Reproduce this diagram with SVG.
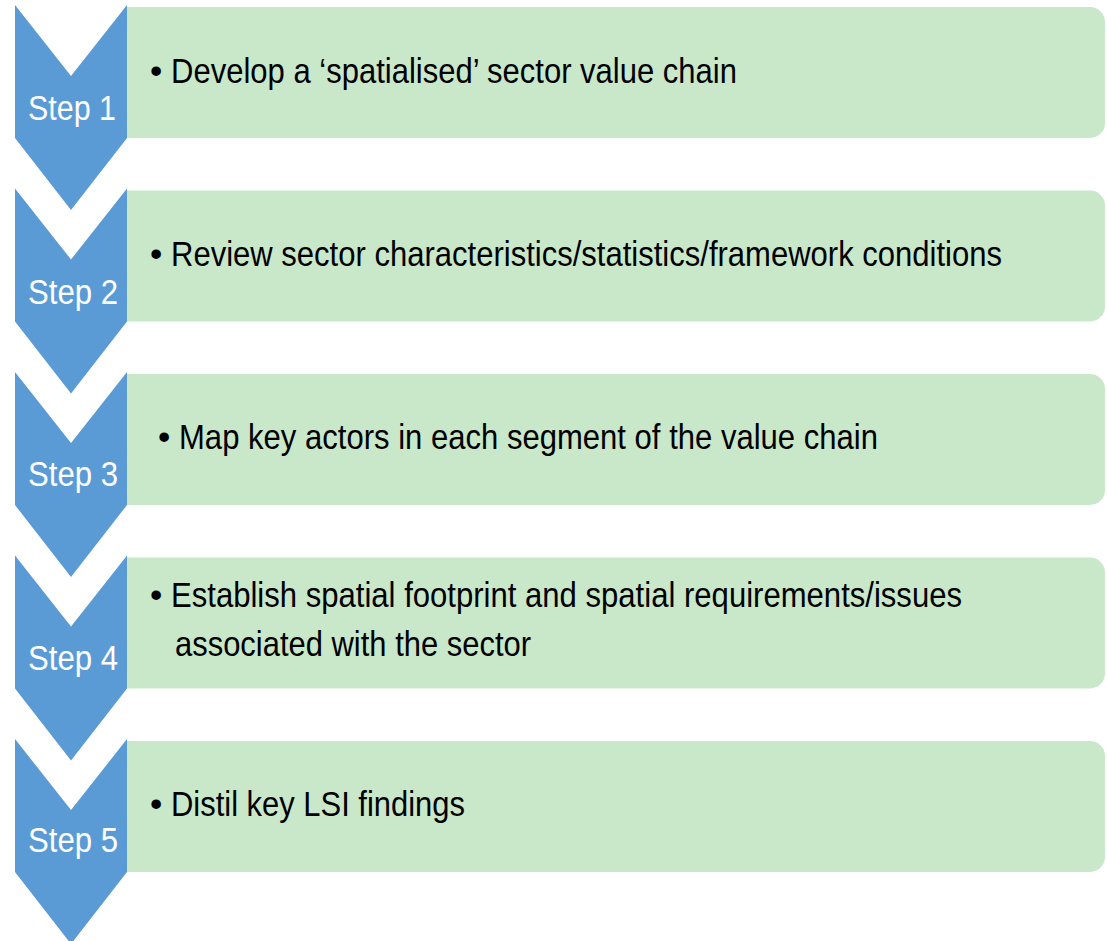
<svg xmlns="http://www.w3.org/2000/svg" width="1107" height="941" viewBox="0 0 1107 941">
<defs>
<style>
.chev{fill:#5B9BD5}
.box{fill:#C9E7C9}
.step{fill:#FFFFFF;font-family:"Liberation Sans",Arial,sans-serif;font-size:35px}
.txt{fill:#000000;font-family:"Liberation Sans",Arial,sans-serif;font-size:35px}
</style>
<path id="chevShape" d="M15,0 L71,71 L127,0 L127,133 L71,205 L15,133 Z"/>
<path id="boxShape" d="M127,2 H1090 A15,15 0 0 1 1105,17 V118 A15,15 0 0 1 1090,133 H127 Z"/>
</defs>
<rect width="1107" height="941" fill="#FFFFFF"/>
<g id="connectors"></g>
<g id="step1" transform="translate(0,5)">
<use href="#chevShape" class="chev"/>
<use href="#boxShape" class="box"/>
<text class="step" x="28" y="115" textLength="88" lengthAdjust="spacingAndGlyphs">Step 1</text>
<text class="txt" x="150" y="78">•</text>
<text class="txt" x="171" y="78" textLength="566" lengthAdjust="spacingAndGlyphs">Develop a ‘spatialised’ sector value chain</text>
</g>
<g id="step2" transform="translate(0,188.5)">
<use href="#chevShape" class="chev"/>
<use href="#boxShape" class="box"/>
<text class="step" x="28" y="115" textLength="90" lengthAdjust="spacingAndGlyphs">Step 2</text>
<text class="txt" x="150" y="77">•</text>
<text class="txt" x="171" y="77" textLength="831" lengthAdjust="spacingAndGlyphs">Review sector characteristics/statistics/framework conditions</text>
</g>
<g id="step3" transform="translate(0,372)">
<use href="#chevShape" class="chev"/>
<use href="#boxShape" class="box"/>
<text class="step" x="28" y="114" textLength="90" lengthAdjust="spacingAndGlyphs">Step 3</text>
<text class="txt" x="158" y="77">•</text>
<text class="txt" x="179" y="77" textLength="699" lengthAdjust="spacingAndGlyphs">Map key actors in each segment of the value chain</text>
</g>
<g id="step4" transform="translate(0,555.5)">
<use href="#chevShape" class="chev"/>
<use href="#boxShape" class="box"/>
<text class="step" x="28" y="114" textLength="90" lengthAdjust="spacingAndGlyphs">Step 4</text>
<text class="txt" x="150" y="51">•</text>
<text class="txt" x="171" y="51" textLength="791" lengthAdjust="spacingAndGlyphs">Establish spatial footprint and spatial requirements/issues</text>
<text class="txt" x="175" y="100" textLength="356" lengthAdjust="spacingAndGlyphs">associated with the sector</text>
</g>
<g id="step5" transform="translate(0,739)">
<use href="#chevShape" class="chev"/>
<use href="#boxShape" class="box"/>
<text class="step" x="28" y="113" textLength="90" lengthAdjust="spacingAndGlyphs">Step 5</text>
<text class="txt" x="150" y="77">•</text>
<text class="txt" x="171" y="77" textLength="294" lengthAdjust="spacingAndGlyphs">Distil key LSI findings</text>
</g>
</svg>
